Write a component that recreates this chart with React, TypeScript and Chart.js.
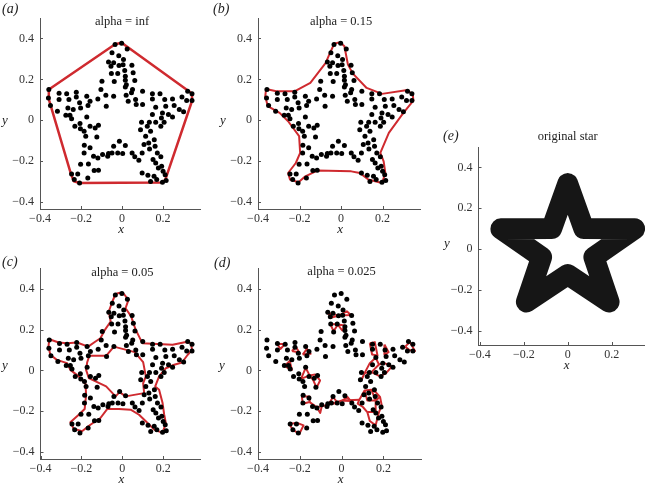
import React, { useEffect, useRef } from "react";
import { Chart, registerables } from "chart.js";
Chart.register(...registerables);

// ---- sample points (same in panels a–d) ----
const pointX = [
  -0.034, -0.002, 0.025, -0.049, -0.016, 0.007, -0.066, -0.041, 0.048, -0.054, -0.015, 0.005,
  -0.052, -0.021, 0.013, 0.016, 0.054, -0.098, -0.038, 0.016, 0.021, 0.062, 0.016, 0.051, -0.103, 0.02,
  -0.357, -0.359, -0.349, -0.315, -0.307, -0.307, -0.27, -0.259, -0.223, -0.223, -0.264, -0.274, -0.254,
  -0.246, -0.238, -0.207, -0.202, -0.172, -0.166, -0.156, -0.118, -0.079, -0.041, -0.077, -0.172, -0.205,
  -0.203, -0.185, -0.23,
  -0.177, -0.156, -0.131, -0.123, -0.115, -0.184, -0.156, -0.185, -0.139, -0.118, -0.095, -0.066, -0.164,
  -0.202, -0.136, -0.115, -0.167, -0.216, -0.246, -0.233, -0.207,
  -0.013, -0.041, 0.016, -0.049, -0.021, 0.003, -0.07, 0.049, 0.062, 0.082,
  0.1, 0.148, 0.185, 0.046, 0.066, 0.03, 0.069, 0.1, 0.148, 0.208, 0.246, 0.164, 0.213, 0.254, 0.292, 0.32,
  0.341, 0.315, 0.341, 0.279, 0.3, 0.197, 0.226, 0.246, 0.192, 0.148, 0.133, 0.164, 0.205, 0.189, 0.095,
  0.09, 0.115, 0.13, 0.134, 0.157, 0.161, 0.172, 0.189, 0.151, 0.164, 0.193, 0.098, 0.098, 0.126, 0.156,
  0.169, 0.21, 0.197, 0.139, 0.177, 0.107, 0.139, 0.123, 0.215, 0.2,
];
const pointY = [
  0.37, 0.377, 0.349, 0.33, 0.316, 0.297, 0.285, 0.281, 0.269, 0.264, 0.268, 0.271,
  0.228, 0.228, 0.243, 0.215, 0.232, 0.191, 0.189, 0.196, 0.173, 0.194, 0.163, 0.15, 0.15, 0.122,
  0.15, 0.109, 0.072, 0.044, 0.132, 0.101, 0.129, 0.101, 0.137, 0.114, 0.06, 0.024, 0.024,
  0.007, 0.052, 0.085, 0.06, 0.117, 0.072, 0.093, 0.104, 0.122, 0.117, 0.069, 0.016, -0.016,
  -0.042, -0.054, -0.029,
  -0.078, -0.029, -0.038, -0.082, -0.024, -0.122, -0.135, -0.16, -0.176, -0.184, -0.168, -0.163, -0.214,
  -0.215, -0.246, -0.245, -0.282, -0.263, -0.263, -0.29, -0.307,
  -0.103, -0.127, -0.124, -0.16, -0.16, -0.163, -0.176, -0.16, -0.179, -0.196,
  0.142, 0.129, 0.129, 0.134, 0.101, 0.093, 0.077, 0.077, 0.104, 0.101, 0.104, 0.064, 0.069, 0.072, 0.114, 0.142,
  0.129, 0.096, 0.096, 0.052, 0.041, 0.036, 0.028, 0.016, 0.011, 0.028, -0.01, -0.01, -0.01, -0.029, -0.01,
  -0.046, -0.078, -0.111, -0.14, -0.095, -0.127, -0.16, -0.179, -0.192, -0.209, -0.225, -0.16, -0.258, -0.269, -0.274,
  -0.29, -0.266, -0.303, -0.299, -0.233, -0.119, -0.054, -0.029, -0.295, -0.25,
];

// ---- alpha-shape boundaries ----
const hullInf = [
  [-0.357, 0.15], [-0.034, 0.372], [-0.002, 0.379], [0.341, 0.131], [0.341, 0.094], [0.211, -0.29],
  [0.197, -0.305], [-0.207, -0.307], [-0.235, -0.298], [-0.249, -0.263], [-0.359, 0.109], [-0.357, 0.15],
];
const hull015 = [
  [-0.033, 0.374], [-0.005, 0.382], [0.016, 0.362], [0.033, 0.272], [0.057, 0.228], [0.123, 0.158],
  [0.197, 0.129], [0.312, 0.147], [0.345, 0.129], [0.348, 0.096], [0.3, 0.036], [0.23, -0.062],
  [0.189, -0.16], [0.205, -0.201], [0.213, -0.258], [0.197, -0.307], [0.131, -0.29], [0.09, -0.258],
  [0.049, -0.25], [-0.115, -0.246], [-0.172, -0.274], [-0.205, -0.303], [-0.246, -0.29], [-0.255, -0.258],
  [-0.218, -0.209], [-0.197, -0.16], [-0.202, -0.078], [-0.255, -0.005], [-0.296, 0.036], [-0.353, 0.069],
  [-0.365, 0.117], [-0.361, 0.153], [-0.312, 0.142], [-0.222, 0.142], [-0.148, 0.183], [-0.074, 0.281],
  [-0.057, 0.321], [-0.033, 0.374],
];
const hull005Outer = [
  [-0.033, 0.375], [-0.013, 0.381], [0.008, 0.375], [0.03, 0.346], [0.016, 0.305], [0.044, 0.264],
  [0.057, 0.223], [0.066, 0.199], [0.098, 0.134], [0.172, 0.13], [0.246, 0.126], [0.311, 0.14],
  [0.336, 0.134], [0.341, 0.101], [0.32, 0.077], [0.292, 0.039], [0.254, 0.028], [0.213, 0.011],
  [0.18, -0.029], [0.161, -0.078], [0.18, -0.095], [0.197, -0.16], [0.205, -0.217], [0.213, -0.258],
  [0.197, -0.306], [0.156, -0.29], [0.115, -0.249], [0.082, -0.217], [0.041, -0.192], [-0.016, -0.189],
  [-0.074, -0.189], [-0.107, -0.233], [-0.156, -0.266], [-0.197, -0.298], [-0.238, -0.285], [-0.254, -0.254],
  [-0.213, -0.217], [-0.184, -0.189], [-0.177, -0.119], [-0.18, -0.065], [-0.213, -0.029], [-0.254, 0.003],
  [-0.27, 0.036], [-0.32, 0.052], [-0.352, 0.077], [-0.361, 0.117], [-0.357, 0.153], [-0.311, 0.137],
  [-0.27, 0.134], [-0.221, 0.137], [-0.167, 0.117], [-0.131, 0.142], [-0.107, 0.158], [-0.085, 0.199],
  [-0.057, 0.24], [-0.066, 0.289], [-0.049, 0.337], [-0.033, 0.375],
];
const hull005Inner = [
  [-0.161, 0.072], [-0.079, 0.072], [-0.041, 0.117], [0.061, 0.09], [0.102, 0.041], [0.115, -0.029],
  [0.102, -0.062], [0.107, -0.111], [0.016, -0.127], [-0.013, -0.106], [-0.033, -0.127], [-0.079, -0.078],
  [-0.164, -0.037], [-0.177, 0.003], [-0.172, 0.039], [-0.161, 0.072],
];
const hull0025 = [
  [[-0.067, 0.282], [-0.043, 0.261], [-0.013, 0.269], [-0.067, 0.282]],
  [[-0.013, 0.269], [0.025, 0.29], [0.044, 0.272], [-0.013, 0.269]],
  [[-0.054, 0.228], [-0.038, 0.192], [-0.018, 0.225], [-0.054, 0.228]],
  [[-0.018, 0.225], [0.003, 0.196], [0.015, 0.22], [-0.018, 0.225]],
  [[-0.309, 0.13], [-0.292, 0.106], [-0.271, 0.13], [-0.309, 0.13]],
  [[-0.238, 0.095], [-0.218, 0.114], [-0.202, 0.088], [-0.238, 0.095]],
  [[-0.186, 0.078], [-0.166, 0.106], [-0.148, 0.082], [-0.186, 0.078]],
  [[-0.271, 0.024], [-0.248, 0.046], [-0.238, 0.003], [-0.259, 0.013], [-0.271, 0.024]],
  [[-0.194, -0.041], [-0.172, 0.013], [-0.153, -0.024], [-0.194, -0.041]],
  [[-0.153, -0.024], [-0.126, -0.02], [-0.103, -0.049], [-0.12, -0.085], [-0.136, -0.046], [-0.153, -0.024]],
  [[-0.19, -0.127], [-0.153, -0.127], [-0.153, -0.155], [-0.186, -0.163], [-0.19, -0.127]],
  [[-0.153, -0.155], [-0.12, -0.179], [-0.095, -0.176], [-0.062, -0.166], [0.003, -0.147], [0.085, -0.143]],
  [[-0.062, -0.166], [-0.041, -0.13], [-0.018, -0.16], [-0.062, -0.166]],
  [[0.003, -0.147], [0.028, -0.13], [0.044, -0.15], [0.003, -0.147]],
  [[-0.12, -0.179], [-0.102, -0.208], [-0.095, -0.176]],
  [[0.085, -0.143], [0.11, -0.098], [0.143, -0.095], [0.163, -0.106], [0.184, -0.13], [0.192, -0.171],
   [0.179, -0.204], [0.163, -0.269], [0.135, -0.248], [0.123, -0.204], [0.102, -0.179], [0.077, -0.163], [0.085, -0.143]],
  [[0.11, -0.098], [0.123, -0.147], [0.163, -0.147], [0.184, -0.13]],
  [[0.143, -0.095], [0.163, -0.147], [0.163, -0.204], [0.123, -0.204]],
  [[0.094, -0.049], [0.11, -0.013], [0.143, -0.008], [0.179, 0.029], [0.205, 0.036], [0.241, 0.02],
   [0.213, -0.013], [0.184, -0.029], [0.143, -0.008]],
  [[0.11, -0.013], [0.135, 0.036], [0.163, 0.062], [0.179, 0.029]],
  [[0.135, 0.134], [0.159, 0.139], [0.172, 0.073], [0.146, 0.078], [0.135, 0.134]],
  [[0.205, 0.127], [0.225, 0.09], [0.205, 0.078], [0.205, 0.127]],
  [[0.304, 0.117], [0.327, 0.139], [0.351, 0.095], [0.323, 0.101], [0.304, 0.117]],
  [[-0.251, -0.261], [-0.232, -0.293], [-0.202, -0.31], [-0.182, -0.269], [-0.21, -0.258], [-0.251, -0.261]],
];

// ---- original star (centre line of the thick outline) ----
const starX = [0, -0.073, -0.304, -0.119, -0.188, 0, 0.188, 0.119, 0.304, 0.073, 0];
const starY = [0.32, 0.101, 0.099, -0.039, -0.259, -0.125, -0.259, -0.039, 0.099, 0.101, 0.32];

// ---- ticks ----
const xTicks = [-0.4, -0.2, 0, 0.2];
const yTicks = [-0.4, -0.2, 0, 0.2, 0.4];

const SERIF = "'Liberation Serif','DejaVu Serif','Times New Roman',serif";
const AXIS = "#555";
const RED = "#cf2a2f";

const fmt = (v: number) => (v < 0 ? "\u2212" + Math.abs(v) : String(v));

type Spec = {
  key: string;
  label: string;
  title: string;
  left: number;
  top: number;
  w: number;
  h: number;
  pad: { left: number; top: number; right: number; bottom: number };
  xMin: number;
  xMax: number;
  yMin: number;
  yMax: number;
  titleDy: number;
  labelPos: [number, number];
  yLabPos: [number, number];
  points: boolean;
  lines: number[][][];
  lw: number;
  star?: boolean;
};

const specs: Spec[] = [
  {
    key: "a", label: "(a)", title: "alpha = inf", left: 0, top: 0, w: 206, h: 241,
    pad: { left: 5, top: 18, right: 6, bottom: 4 }, xMin: -0.4, xMax: 0.38, yMin: -0.434, yMax: 0.5,
    titleDy: 4, labelPos: [2, 9], yLabPos: [5, 121], points: true, lines: [hullInf], lw: 2.5,
  },
  {
    key: "b", label: "(b)", title: "alpha = 0.15", left: 211, top: 0, w: 215, h: 241,
    pad: { left: 12, top: 18, right: 6, bottom: 4 }, xMin: -0.4, xMax: 0.38, yMin: -0.434, yMax: 0.5,
    titleDy: 4, labelPos: [213, 9], yLabPos: [223, 121], points: true, lines: [hull015], lw: 2,
  },
  {
    key: "c", label: "(c)", title: "alpha = 0.05", left: 0, top: 250, w: 206, h: 241,
    pad: { left: 5.5, top: 18.5, right: 6, bottom: 4 }, xMin: -0.4, xMax: 0.38, yMin: -0.434, yMax: 0.5,
    titleDy: 4, labelPos: [2, 262], yLabPos: [5, 366], points: true, lines: [hull005Outer, hull005Inner], lw: 2,
  },
  {
    key: "d", label: "(d)", title: "alpha = 0.025", left: 212, top: 250, w: 215, h: 241,
    pad: { left: 11, top: 18.5, right: 6, bottom: 4 }, xMin: -0.4, xMax: 0.38, yMin: -0.434, yMax: 0.5,
    titleDy: 3, labelPos: [214, 263], yLabPos: [222, 366], points: true, lines: hull0025, lw: 2,
  },
  {
    key: "e", label: "(e)", title: "original star", left: 441, top: 129, w: 205, h: 250,
    pad: { left: 2.5, top: 18, right: 2, bottom: 6 }, xMin: -0.406, xMax: 0.347, yMin: -0.47, yMax: 0.5,
    titleDy: -10, labelPos: [443, 136], yLabPos: [447, 244], points: false, lines: [], lw: 2, star: true,
  },
];

function Panel({ spec }: { spec: Spec }) {
  const ref = useRef<HTMLCanvasElement>(null);
  useEffect(() => {
    if (!ref.current) return;
    const datasets: any[] = [];
    if (spec.points) {
      datasets.push({
        data: pointX.map((x, i) => ({ x, y: pointY[i] })),
        showLine: false,
        pointRadius: 2.5,
        pointBackgroundColor: "#000",
        pointBorderWidth: 0,
        pointHoverRadius: 2.5,
      });
    }
    spec.lines.forEach((poly) => {
      datasets.push({
        data: poly.map(([x, y]) => ({ x, y })),
        showLine: true,
        borderColor: RED,
        borderWidth: spec.lw,
        borderJoinStyle: "round",
        pointRadius: 0,
        fill: false,
        tension: 0,
      });
    });
    if (spec.star) {
      datasets.push({
        data: starX.map((x, i) => ({ x, y: starY[i] })),
        showLine: true,
        borderColor: "#161616",
        borderWidth: 21,
        borderJoinStyle: "round",
        borderCapStyle: "round",
        pointRadius: 0,
        fill: false,
        tension: 0,
        clip: false,
      });
    }
    const deco = {
      id: "deco" + spec.key,
      afterDraw(chart: any) {
        const { ctx, chartArea, scales } = chart;
        const { left, top, bottom } = chartArea;
        const xs = scales.x;
        const ys = scales.y;
        ctx.save();
        ctx.strokeStyle = AXIS;
        ctx.lineWidth = 1;
        ctx.beginPath();
        xTicks.forEach((v) => {
          const p = Math.round(xs.getPixelForValue(v)) + 0.5;
          ctx.moveTo(p, bottom);
          ctx.lineTo(p, bottom - 3);
        });
        yTicks.forEach((v) => {
          const p = Math.round(ys.getPixelForValue(v)) + 0.5;
          ctx.moveTo(left, p);
          ctx.lineTo(left + 3, p);
        });
        ctx.stroke();
        ctx.fillStyle = "#222";
        ctx.textBaseline = "middle";
        ctx.textAlign = "center";
        ctx.font = `12.5px ${SERIF}`;
        ctx.fillText(spec.title, xs.getPixelForValue(0), top + spec.titleDy);
        ctx.font = `italic 13px ${SERIF}`;
        ctx.fillText("x", xs.getPixelForValue(0) - 1, bottom + 21);
        ctx.fillText("y", spec.yLabPos[0] - spec.left, spec.yLabPos[1] - spec.top);
        ctx.textAlign = "left";
        ctx.font = `italic 14px ${SERIF}`;
        ctx.fillText(spec.label, spec.labelPos[0] - spec.left, spec.labelPos[1] - spec.top);
        ctx.restore();
      },
    };
    const tickFont = { family: SERIF, size: 12 };
    const chart = new Chart(ref.current, {
      type: "scatter",
      data: { datasets },
      options: {
        animation: false,
        responsive: false,
        events: [],
        layout: { padding: spec.pad },
        plugins: { legend: { display: false }, tooltip: { enabled: false }, title: { display: false } },
        scales: {
          x: {
            type: "linear",
            min: spec.xMin,
            max: spec.xMax,
            afterBuildTicks: (axis: any) => {
              axis.ticks = xTicks.map((v) => ({ value: v }));
            },
            afterFit: (axis: any) => {
              axis.height = 28;
            },
            grid: { display: false, drawTicks: false },
            border: { display: true, color: AXIS, width: 1 },
            ticks: { color: "#333", font: tickFont, padding: 3, callback: (v: any) => fmt(Number(v)), maxRotation: 0, autoSkip: false },
          },
          y: {
            type: "linear",
            min: spec.yMin,
            max: spec.yMax,
            afterBuildTicks: (axis: any) => {
              axis.ticks = yTicks.map((v) => ({ value: v }));
            },
            afterFit: (axis: any) => {
              axis.width = 35;
            },
            grid: { display: false, drawTicks: false },
            border: { display: true, color: AXIS, width: 1 },
            ticks: { color: "#333", font: tickFont, padding: 6, callback: (v: any) => fmt(Number(v)), autoSkip: false },
          },
        },
      } as any,
      plugins: [deco],
    });
    return () => chart.destroy();
  }, [spec]);
  return (
    <canvas
      ref={ref}
      width={spec.w}
      height={spec.h}
      style={{ position: "absolute", left: spec.left, top: spec.top, width: spec.w, height: spec.h }}
    />
  );
}

export default function App() {
  return (
    <div style={{ position: "absolute", left: 0, top: 0, width: 646, height: 488, background: "#fff", overflow: "hidden" }}>
      {specs.map((s) => (
        <Panel key={s.key} spec={s} />
      ))}
    </div>
  );
}
